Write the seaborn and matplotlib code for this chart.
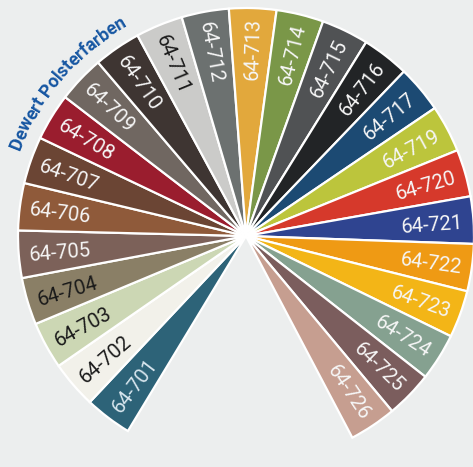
import numpy as np
import matplotlib
matplotlib.use("Agg")
import matplotlib.pyplot as plt
import seaborn as sns

# colour codes, clockwise from bottom-left
codes = ["64-701", "64-702", "64-703", "64-704", "64-705", "64-706", "64-707",
         "64-708", "64-709", "64-710", "64-711", "64-712", "64-713", "64-714",
         "64-715", "64-716", "64-717", "64-719", "64-720", "64-721", "64-722",
         "64-723", "64-724", "64-725", "64-726"]
swatches = ["#2d6378", "#f2f1ea", "#ccd7b4", "#8a7f66", "#7c6159", "#8f5a3a",
            "#6b4534", "#9a1d2e", "#706761", "#3e3532", "#cbcbc9", "#6c7170",
            "#e2a83c", "#7a9748", "#505254", "#222426", "#1c4a73", "#bcc53c",
            "#d6392b", "#2f4490", "#ef9a14", "#f3b517", "#85a190", "#7b5d5d",
            "#c69e90"]
dark_text = ["64-702", "64-703", "64-704", "64-711"]
shares = [1] * len(codes)          # every swatch gets the same slice
slice_deg = 12.04
start_deg = 238.8
title = "Dewert Polsterfarben"

bg = "#eceeee"
sns.set_theme(style="white", rc={"figure.facecolor": bg, "axes.facecolor": bg})
plt.rcParams["font.family"] = ["Roboto", "DejaVu Sans"]

W, H, dpi = 473, 467, 100
fig = plt.figure(figsize=(W / dpi, H / dpi), dpi=dpi)
ax = fig.add_axes([0, 0, 1, 1])

R = 228.0      # radius in pixels
cx, cy = 246.0, 467 - 236.0

fracs = np.array(shares) * slice_deg / 360.0
wedges, _ = ax.pie(fracs, colors=swatches, startangle=start_deg, counterclock=False,
                   normalize=False, radius=1.0,
                   wedgeprops=dict(edgecolor="white", linewidth=1.6))

ax.set_xlim(-cx / R, (W - cx) / R)
ax.set_ylim(-cy / R, (H - cy) / R)
ax.set_aspect("equal")
ax.axis("off")

# labels along each wedge
for i, code in enumerate(codes):
    mid = start_deg - slice_deg * (i + 0.5)
    th = np.deg2rad(mid)
    r = 0.955
    x, y = r * np.cos(th), r * np.sin(th)
    a = (mid + 180) % 360 - 180
    col = "#1a1a1a" if code in dark_text else ("#d8e6ee" if code == "64-701" else "#f6f6f6")
    if -90 < a <= 90:
        ax.text(x, y, code, rotation=a, ha="right", va="center_baseline",
                rotation_mode="anchor", fontsize=14.5, color=col)
    else:
        ax.text(x, y, code, rotation=a - 180, ha="left", va="center_baseline",
                rotation_mode="anchor", fontsize=14.5, color=col)

# curved title along the outer arc
renderer = fig.canvas.get_renderer()
tsize = 13
widths = []
for ch in title:
    t = ax.text(0, 0, ch if ch != " " else "n", fontsize=tsize, fontweight="bold")
    w = t.get_window_extent(renderer).width
    if ch == " ":
        w *= 0.5
    widths.append(w * 0.97)
    t.remove()
r_t = 1.058
total = sum(widths) / (r_t * R)
ang = np.deg2rad(139.5) + total / 2
for ch, w in zip(title, widths):
    da = w / (r_t * R)
    a = ang - da / 2
    ax.text(r_t * np.cos(a), r_t * np.sin(a), ch, rotation=np.rad2deg(a) - 90,
            ha="center", va="baseline", rotation_mode="anchor",
            fontsize=tsize, fontweight="bold", color="#1656a2")
    ang -= da

fig.savefig("out.png", dpi=dpi, facecolor=bg)
